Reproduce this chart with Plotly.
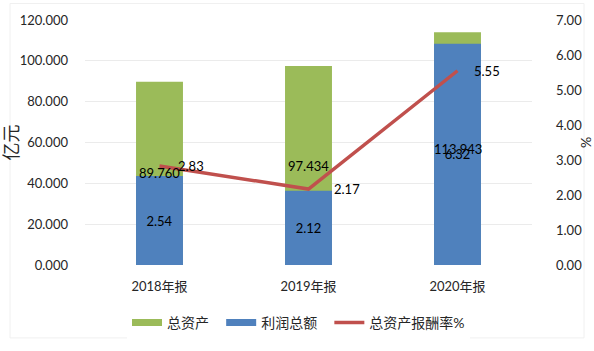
import plotly.graph_objects as go

categories = ["2018年报", "2019年报", "2020年报"]
total_assets = [89.760, 97.434, 113.943]
total_profit = [2.54, 2.12, 6.32]
roa = [2.83, 2.17, 5.55]
series_names = ["总资产", "利润总额", "总资产报酬率%"]

left_ticks = [0, 20, 40, 60, 80, 100, 120]
right_ticks = [0, 1, 2, 3, 4, 5, 6, 7]

# style: horizontal offsets (px) of the rate labels, as placed in the reference
roa_label_shift = [16, 23, 14]

FONT = "Lato, 'Noto Sans CJK SC', sans-serif"
GREEN, BLUE, RED = "#9BBB59", "#4F81BD", "#C0504D"
PAD = "\u00a0" * 2  # extra spacing between legend entries

fig = go.Figure()
fig.add_trace(go.Bar(
    x=categories, y=total_assets, name=series_names[0], yaxis="y",
    marker=dict(color=GREEN, line=dict(width=0)), width=0.315,
    showlegend=False,
))
fig.add_trace(go.Bar(
    x=categories, y=total_profit, name=series_names[1], yaxis="y2",
    marker=dict(color=BLUE, line=dict(width=0)), width=0.315,
    text=[f"{v:.2f}" for v in total_profit], textposition="inside",
    insidetextanchor="middle", textangle=0, constraintext="none",
    textfont=dict(color="#000000", size=13, family=FONT),
    showlegend=False,
))
fig.add_trace(go.Scatter(
    x=categories, y=roa, name=series_names[2], yaxis="y2",
    mode="lines", line=dict(color=RED, width=3.5),
    showlegend=False,
))

# legend entries (wide swatches like the reference)
for nm, col, w, pad in [(series_names[0], GREEN, 7, PAD), (series_names[1], BLUE, 7, PAD),
                        (series_names[2], RED, 3.5, "")]:
    fig.add_trace(go.Scatter(x=[None], y=[None], mode="lines", name=nm + pad,
                             line=dict(color=col, width=w), showlegend=True,
                             hoverinfo="skip"))

# labels of the total-asset bars, drawn on top of everything (centred in bar)
for c, v in zip(categories, total_assets):
    fig.add_annotation(x=c, y=v / 2, xref="x", yref="y", text=f"{v:.3f}",
                       showarrow=False, font=dict(color="#000000", size=13, family=FONT))

# labels of the rate line, to the right of each point
for c, v, dx in zip(categories, roa, roa_label_shift):
    fig.add_annotation(x=c, y=v, xref="x", yref="y2", text=f"{v:.2f}",
                       showarrow=False, xanchor="left", xshift=dx,
                       font=dict(color="#000000", size=13, family=FONT))

fig.update_layout(
    width=594, height=351,
    margin=dict(l=85, r=62, t=20, b=79),
    paper_bgcolor="white", plot_bgcolor="white",
    barmode="overlay",
    font=dict(family=FONT, size=13, color="#262626"),
    showlegend=True,
    legend=dict(orientation="h", x=(127 - 85) / 447, xanchor="left",
                y=-(315 - 272) / 252, yanchor="top",
                font=dict(size=14, color="#262626"), itemwidth=30,
                traceorder="normal"),
    xaxis=dict(showgrid=False, showline=False, zeroline=False, ticks="",
               tickfont=dict(size=13), ticklabelstandoff=12, automargin=False),
    yaxis=dict(range=[0, 120], tickvals=left_ticks,
               ticktext=[f"{v:.3f}" for v in left_ticks],
               showgrid=True, gridcolor="#EBEBEB", gridwidth=1,
               zeroline=False, showline=False, ticks="", ticklabelstandoff=16,
               automargin=False,
               title=dict(text="亿元", font=dict(size=18), standoff=8)),
    yaxis2=dict(range=[0, 7], tickvals=right_ticks,
                ticktext=[f"{v:.2f}" for v in right_ticks],
                overlaying="y", side="right", showgrid=False, zeroline=False,
                showline=False, ticks="", ticklabelstandoff=23, automargin=False,
                title=dict(text="%", font=dict(size=14), standoff=8)),
)

fig.add_shape(type="rect", xref="paper", yref="paper",
              x0=-75 / 447, x1=(584 - 85) / 447, y0=-(347 - 272) / 252, y1=(272 - 3) / 252,
              line=dict(color="#F0F0F0", width=1), fillcolor="rgba(0,0,0,0)",
              layer="below")

# remove the page's default body margin so the figure fills the 594x351 window exactly
fig.write_html("out.html", config={"displayModeBar": False},
               post_script="document.body.style.margin='0';document.body.style.overflow='hidden';")
